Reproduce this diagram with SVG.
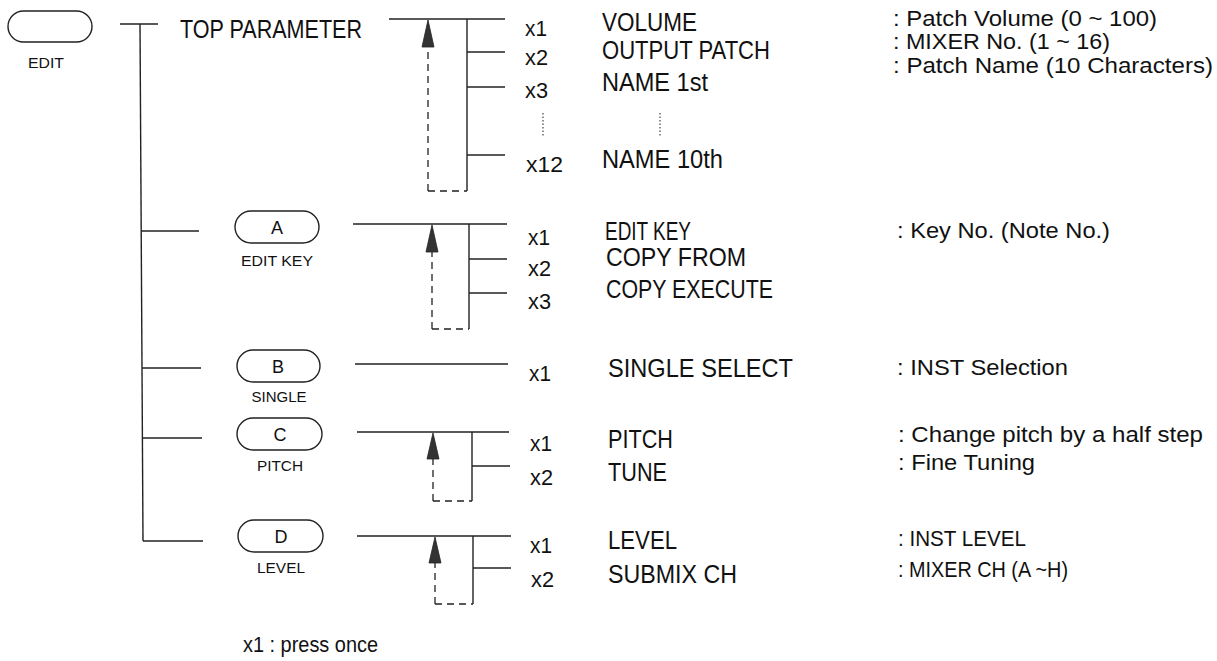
<svg xmlns="http://www.w3.org/2000/svg" width="1217" height="661" viewBox="0 0 1217 661">
<defs>
<style>
.ln{stroke:#222;stroke-width:1.4;fill:none}
.dl{stroke:#222;stroke-width:1.3;fill:none;stroke-dasharray:7 5}
.dot{stroke:#444;stroke-width:1.2;fill:none;stroke-dasharray:1.5 2}
.pill{stroke:#222;stroke-width:1.4;fill:#fff}
.ah{fill:#333;stroke:#222;stroke-width:0.8}
.t{font-family:"Liberation Sans Narrow","Liberation Sans",Arial,sans-serif;fill:#111}
.nm{font-size:25px}
.xl{font-size:22px}
.ds{font-size:22px}
.bl{font-size:18px;text-anchor:middle}
.sl{font-size:15px;text-anchor:middle}
</style>
</defs>
<rect width="1217" height="661" fill="#fff"/>

<g id="connectors">
<line class="ln" x1="120" y1="24" x2="158" y2="24"/>
<line class="ln" x1="140" y1="24" x2="143" y2="541"/>
<line class="ln" x1="141" y1="231" x2="199" y2="231"/>
<line class="ln" x1="142" y1="368" x2="201" y2="368"/>
<line class="ln" x1="142" y1="438" x2="202" y2="438"/>
<line class="ln" x1="143" y1="541" x2="203" y2="541"/>
<line class="ln" x1="389" y1="19" x2="505" y2="19"/>
<line class="ln" x1="467" y1="19" x2="467" y2="191"/>
<line class="ln" x1="467" y1="52" x2="505" y2="52"/>
<line class="ln" x1="467" y1="87" x2="505" y2="87"/>
<line class="ln" x1="467" y1="155" x2="505" y2="155"/>
<line class="dl" x1="428" y1="191" x2="428" y2="46"/>
<line class="dl" x1="428" y1="191" x2="467" y2="191"/>
<polygon class="ah" points="428,20 422,47 434,47"/>
<line class="dot" x1="543" y1="113" x2="543" y2="137"/>
<line class="dot" x1="660" y1="113" x2="660" y2="137"/>
<line class="ln" x1="353" y1="224" x2="507" y2="224"/>
<line class="ln" x1="469" y1="224" x2="469" y2="329"/>
<line class="ln" x1="469" y1="259" x2="507" y2="259"/>
<line class="ln" x1="469" y1="293" x2="507" y2="293"/>
<line class="dl" x1="432" y1="329" x2="432" y2="251"/>
<line class="dl" x1="432" y1="329" x2="469" y2="329"/>
<polygon class="ah" points="432,225 426,252 438,252"/>
<line class="ln" x1="355" y1="364" x2="508" y2="364"/>
<line class="ln" x1="357" y1="432" x2="509" y2="432"/>
<line class="ln" x1="472" y1="432" x2="472" y2="501"/>
<line class="ln" x1="472" y1="466" x2="510" y2="466"/>
<line class="dl" x1="433" y1="501" x2="433" y2="458"/>
<line class="dl" x1="433" y1="501" x2="472" y2="501"/>
<polygon class="ah" points="433,433 427,459 439,459"/>
<line class="ln" x1="357" y1="536" x2="511" y2="536"/>
<line class="ln" x1="473" y1="536" x2="473" y2="604"/>
<line class="ln" x1="473" y1="568" x2="511" y2="568"/>
<line class="dl" x1="435" y1="604" x2="435" y2="561"/>
<line class="dl" x1="435" y1="604" x2="473" y2="604"/>
<polygon class="ah" points="435,537 429,563 441,563"/>
</g>

<g id="edit">
<rect class="pill" x="8" y="11" width="84" height="31" rx="15.5"/>
<text class="t sl" x="46" y="68" textLength="36" lengthAdjust="spacingAndGlyphs">EDIT</text>
</g>

<g id="top-parameter">
<text class="t" x="180" y="38" font-size="26" textLength="182" lengthAdjust="spacingAndGlyphs">TOP PARAMETER</text>
<text class="t xl" x="525" y="36" textLength="22" lengthAdjust="spacingAndGlyphs">x1</text>
<text class="t nm" x="602" y="31" textLength="95" lengthAdjust="spacingAndGlyphs">VOLUME</text>
<text class="t ds" x="893" y="26" textLength="264" lengthAdjust="spacingAndGlyphs">: Patch Volume (0 ~ 100)</text>
<text class="t xl" x="525" y="65" textLength="23" lengthAdjust="spacingAndGlyphs">x2</text>
<text class="t nm" x="602" y="59" textLength="168" lengthAdjust="spacingAndGlyphs">OUTPUT PATCH</text>
<text class="t ds" x="893" y="49" textLength="217" lengthAdjust="spacingAndGlyphs">: MIXER No. (1 ~ 16)</text>
<text class="t xl" x="525" y="98" textLength="23" lengthAdjust="spacingAndGlyphs">x3</text>
<text class="t nm" x="602" y="91" textLength="106" lengthAdjust="spacingAndGlyphs">NAME 1st</text>
<text class="t ds" x="893" y="73" textLength="320" lengthAdjust="spacingAndGlyphs">: Patch Name (10 Characters)</text>
<text class="t xl" x="526" y="172" textLength="37" lengthAdjust="spacingAndGlyphs">x12</text>
<text class="t nm" x="602" y="168" textLength="121" lengthAdjust="spacingAndGlyphs">NAME 10th</text>
</g>

<g id="edit-key">
<rect class="pill" x="235" y="211" width="84" height="32" rx="16"/>
<text class="t bl" x="277" y="234">A</text>
<text class="t sl" x="277" y="266" textLength="72" lengthAdjust="spacingAndGlyphs">EDIT KEY</text>
<text class="t xl" x="528" y="245" textLength="22" lengthAdjust="spacingAndGlyphs">x1</text>
<text class="t nm" x="605" y="240" textLength="86" lengthAdjust="spacingAndGlyphs">EDIT KEY</text>
<text class="t ds" x="897" y="238" textLength="213" lengthAdjust="spacingAndGlyphs">: Key No. (Note No.)</text>
<text class="t xl" x="528" y="276" textLength="23" lengthAdjust="spacingAndGlyphs">x2</text>
<text class="t nm" x="606" y="266" textLength="140" lengthAdjust="spacingAndGlyphs">COPY FROM</text>
<text class="t xl" x="528" y="309" textLength="23" lengthAdjust="spacingAndGlyphs">x3</text>
<text class="t nm" x="606" y="298" textLength="167" lengthAdjust="spacingAndGlyphs">COPY EXECUTE</text>
</g>

<g id="single">
<rect class="pill" x="237" y="350" width="83" height="32" rx="16"/>
<text class="t bl" x="278" y="373">B</text>
<text class="t sl" x="279" y="402" textLength="55" lengthAdjust="spacingAndGlyphs">SINGLE</text>
<text class="t xl" x="529" y="381" textLength="22" lengthAdjust="spacingAndGlyphs">x1</text>
<text class="t nm" x="608" y="377" textLength="185" lengthAdjust="spacingAndGlyphs">SINGLE SELECT</text>
<text class="t ds" x="897" y="375" textLength="171" lengthAdjust="spacingAndGlyphs">: INST Selection</text>
</g>

<g id="pitch">
<rect class="pill" x="237" y="418" width="85" height="32" rx="16"/>
<text class="t bl" x="280" y="441">C</text>
<text class="t sl" x="280" y="471" textLength="46" lengthAdjust="spacingAndGlyphs">PITCH</text>
<text class="t xl" x="530" y="451" textLength="22" lengthAdjust="spacingAndGlyphs">x1</text>
<text class="t nm" x="608" y="448" textLength="65" lengthAdjust="spacingAndGlyphs">PITCH</text>
<text class="t ds" x="898" y="442" textLength="305" lengthAdjust="spacingAndGlyphs">: Change pitch by a half step</text>
<text class="t xl" x="530" y="485" textLength="23" lengthAdjust="spacingAndGlyphs">x2</text>
<text class="t nm" x="608" y="481" textLength="59" lengthAdjust="spacingAndGlyphs">TUNE</text>
<text class="t ds" x="898" y="470" textLength="137" lengthAdjust="spacingAndGlyphs">: Fine Tuning</text>
</g>

<g id="level">
<rect class="pill" x="238" y="520" width="85" height="32" rx="16"/>
<text class="t bl" x="281" y="543">D</text>
<text class="t sl" x="281" y="573" textLength="48" lengthAdjust="spacingAndGlyphs">LEVEL</text>
<text class="t xl" x="530" y="553" textLength="22" lengthAdjust="spacingAndGlyphs">x1</text>
<text class="t nm" x="608" y="549" textLength="69" lengthAdjust="spacingAndGlyphs">LEVEL</text>
<text class="t ds" x="898" y="546" textLength="128" lengthAdjust="spacingAndGlyphs">: INST LEVEL</text>
<text class="t xl" x="531" y="587" textLength="23" lengthAdjust="spacingAndGlyphs">x2</text>
<text class="t nm" x="608" y="583" textLength="129" lengthAdjust="spacingAndGlyphs">SUBMIX CH</text>
<text class="t ds" x="898" y="577" textLength="170" lengthAdjust="spacingAndGlyphs">: MIXER CH (A ~H)</text>
</g>

<g id="legend">
<text class="t" x="243" y="652" font-size="22" textLength="135" lengthAdjust="spacingAndGlyphs">x1  : press once</text>
</g>
</svg>
